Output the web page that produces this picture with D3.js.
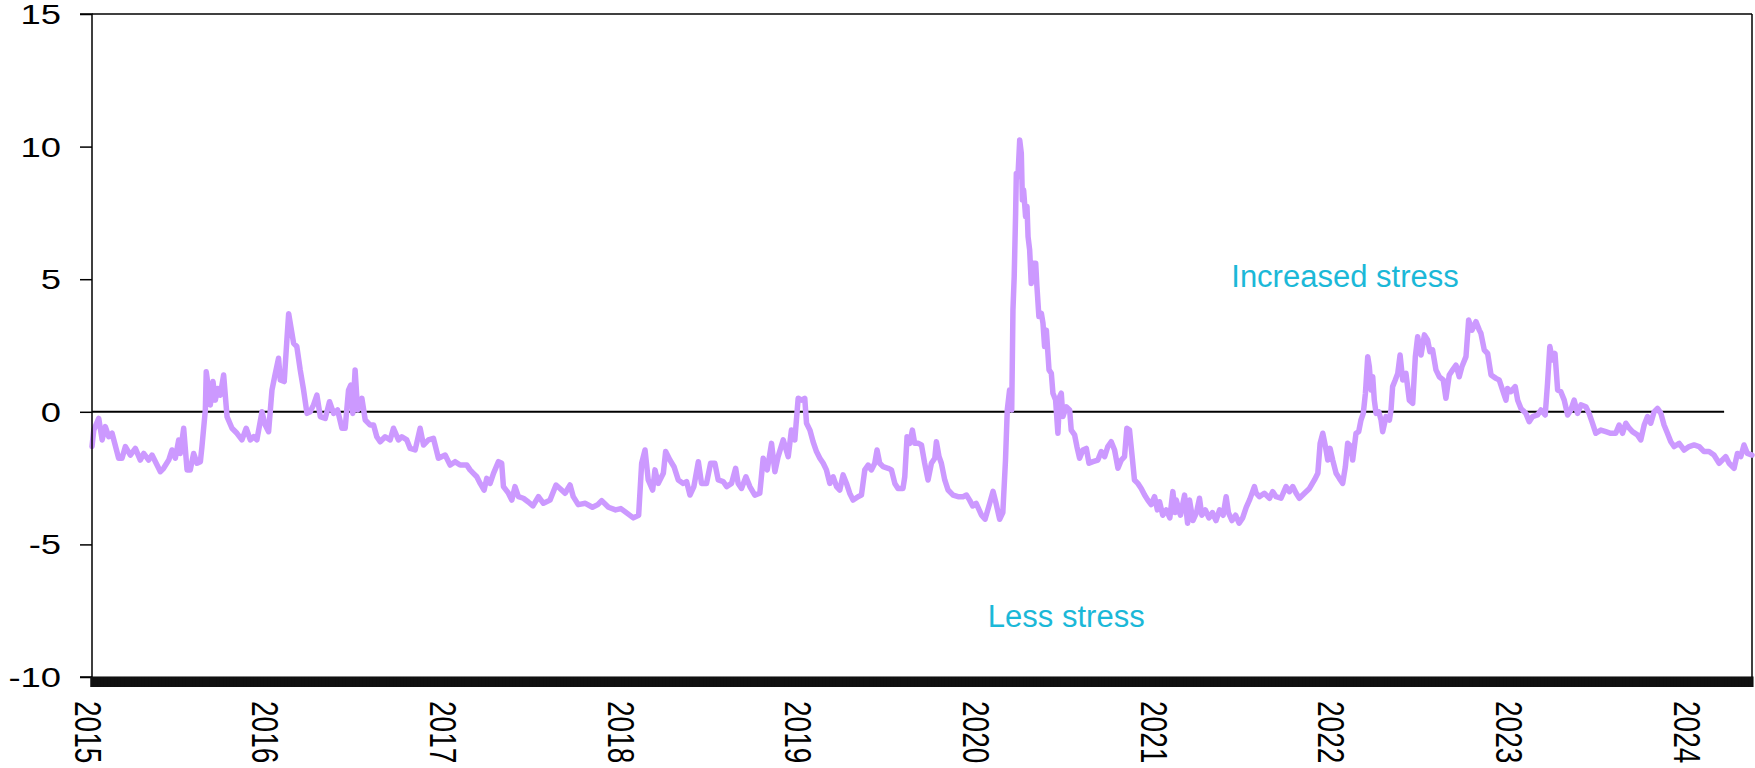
<!DOCTYPE html>
<html><head><meta charset="utf-8">
<script src="https://cdn.jsdelivr.net/npm/d3@7"></script>
<style>body{margin:0;background:#fff}svg{display:block}</style>
</head><body>
<svg id="chart" width="1755" height="768"></svg>
<script>
// ---- data (time as decimal year, stress index value) ----
const dates = [
2015.023,2015.033,2015.061,2015.080,2015.098,2015.117,2015.136,2015.173,2015.192,2015.211,2015.239,2015.267,2015.295,2015.314,2015.342,2015.361,2015.380,2015.408,2015.426,2015.455,2015.473,2015.492,2015.511,2015.520,2015.539,2015.558,2015.576,2015.595,2015.614,2015.633,2015.642,2015.661,2015.666,2015.680,2015.689,2015.704,2015.717,2015.730,2015.745,2015.764,2015.783,2015.811,2015.839,2015.867,2015.891,2015.914,2015.933,2015.951,2015.980,2015.998,
2016.017,2016.036,2016.055,2016.073,2016.083,2016.105,2016.120,2016.130,2016.158,2016.176,2016.195,2016.214,2016.233,2016.251,2016.270,2016.289,2016.308,2016.336,2016.360,2016.383,2016.405,2016.430,2016.448,2016.467,2016.480,2016.491,2016.504,2016.518,2016.542,2016.561,2016.589,2016.608,2016.626,2016.645,2016.673,2016.701,2016.720,2016.748,2016.767,2016.795,2016.814,2016.842,2016.870,2016.889,2016.917,2016.945,2016.973,
2017.011,2017.039,2017.067,2017.095,2017.133,2017.151,2017.170,2017.189,2017.208,2017.230,2017.245,2017.264,2017.283,2017.311,2017.329,2017.339,2017.367,2017.386,2017.404,2017.423,2017.451,2017.479,2017.505,2017.536,2017.564,2017.601,2017.635,2017.657,2017.686,2017.714,2017.732,2017.760,2017.800,2017.840,2017.870,2017.892,2017.930,2017.970,
2018.000,2018.040,2018.070,2018.100,2018.117,2018.136,2018.154,2018.179,2018.192,2018.210,2018.239,2018.252,2018.276,2018.299,2018.323,2018.351,2018.370,2018.389,2018.411,2018.436,2018.454,2018.482,2018.505,2018.529,2018.548,2018.576,2018.595,2018.623,2018.646,2018.660,2018.679,2018.704,2018.726,2018.754,2018.782,2018.801,2018.824,2018.848,2018.867,2018.885,2018.914,2018.942,2018.960,2018.979,2018.998,
2019.017,2019.035,2019.045,2019.064,2019.082,2019.101,2019.120,2019.139,2019.157,2019.176,2019.195,2019.214,2019.232,2019.251,2019.270,2019.288,2019.307,2019.335,2019.354,2019.373,2019.392,2019.410,2019.429,2019.442,2019.457,2019.476,2019.504,2019.523,2019.542,2019.560,2019.588,2019.598,2019.611,2019.626,2019.641,2019.654,2019.673,2019.692,2019.710,2019.729,2019.748,2019.767,2019.776,2019.791,2019.804,2019.823,2019.842,2019.870,2019.898,2019.926,2019.945,2019.963,2019.980,
2020.000,2020.030,2020.050,2020.076,2020.095,2020.110,2020.132,2020.150,2020.165,2020.175,2020.188,2020.200,2020.207,2020.214,2020.222,2020.226,2020.235,2020.245,2020.254,2020.260,2020.267,2020.278,2020.286,2020.292,2020.301,2020.310,2020.320,2020.335,2020.342,2020.353,2020.367,2020.376,2020.385,2020.395,2020.410,2020.423,2020.432,2020.447,2020.460,2020.470,2020.479,2020.488,2020.507,2020.526,2020.535,2020.554,2020.567,2020.582,2020.601,2020.620,2020.635,2020.657,2020.685,2020.704,2020.723,2020.741,2020.760,2020.779,2020.798,2020.817,2020.835,2020.848,2020.863,2020.878,2020.891,2020.910,2020.929,2020.948,2020.966,2020.985,
2021.004,2021.020,2021.032,2021.050,2021.070,2021.090,2021.107,2021.120,2021.126,2021.150,2021.173,2021.190,2021.201,2021.220,2021.240,2021.257,2021.270,2021.290,2021.310,2021.330,2021.350,2021.370,2021.390,2021.407,2021.420,2021.440,2021.460,2021.480,2021.500,2021.520,2021.540,2021.566,2021.576,2021.594,2021.622,2021.651,2021.669,2021.688,2021.716,2021.744,2021.763,2021.782,2021.801,2021.819,2021.848,2021.876,2021.904,2021.923,2021.936,2021.951,2021.966,2021.979,2021.992,
2022.007,2022.026,2022.044,2022.063,2022.078,2022.091,2022.110,2022.119,2022.138,2022.153,2022.166,2022.179,2022.191,2022.204,2022.213,2022.223,2022.232,2022.241,2022.251,2022.266,2022.279,2022.288,2022.307,2022.326,2022.335,2022.344,2022.359,2022.373,2022.386,2022.401,2022.419,2022.438,2022.457,2022.472,2022.485,2022.504,2022.523,2022.541,2022.554,2022.569,2022.588,2022.607,2022.629,2022.644,2022.663,2022.682,2022.701,2022.719,2022.734,2022.757,2022.772,2022.791,2022.813,2022.832,2022.841,2022.860,2022.879,2022.898,2022.926,2022.944,2022.963,2022.982,2022.991,
2023.010,2023.034,2023.048,2023.066,2023.094,2023.113,2023.132,2023.160,2023.179,2023.203,2023.216,2023.229,2023.244,2023.258,2023.273,2023.291,2023.310,2023.329,2023.347,2023.366,2023.385,2023.404,2023.432,2023.450,2023.469,2023.488,2023.516,2023.544,2023.572,2023.600,2023.619,2023.638,2023.657,2023.676,2023.694,2023.722,2023.741,2023.760,2023.779,2023.797,2023.816,2023.835,2023.854,2023.872,2023.891,2023.910,2023.929,2023.957,2023.985,
2024.013,2024.041,2024.069,2024.097,2024.125,2024.153,2024.182,2024.200,2024.219,2024.238,2024.266,2024.285,2024.304,2024.322,2024.341,2024.367
];
const values = [
-1.31,-0.69,-0.25,-1.06,-0.56,-0.94,-0.81,-1.75,-1.75,-1.31,-1.63,-1.38,-1.82,-1.57,-1.82,-1.63,-1.88,-2.26,-2.13,-1.82,-1.44,-1.75,-1.06,-1.57,-0.62,-2.19,-2.19,-1.57,-1.94,-1.88,-1.31,0.07,1.51,0.82,0.26,1.14,0.44,0.88,0.63,1.39,-0.18,-0.62,-0.81,-1.06,-0.62,-1.06,-0.94,-1.06,0.00,-0.50,
-0.75,0.82,1.45,2.02,1.20,1.14,2.71,3.70,2.58,2.46,1.58,0.82,-0.06,0.00,0.26,0.63,-0.18,-0.25,0.38,-0.06,0.07,-0.62,-0.62,0.82,1.01,-0.06,1.58,0.07,0.51,-0.31,-0.50,-0.50,-0.94,-1.13,-0.94,-1.06,-0.62,-1.06,-0.94,-1.06,-1.38,-1.44,-0.62,-1.25,-1.06,-1.00,-1.75,
-1.63,-2.01,-1.88,-2.01,-2.01,-2.19,-2.32,-2.45,-2.70,-2.95,-2.51,-2.70,-2.32,-1.88,-1.94,-2.82,-3.07,-3.33,-2.82,-3.20,-3.26,-3.40,-3.55,-3.20,-3.45,-3.33,-2.76,-2.89,-3.07,-2.76,-3.20,-3.50,-3.45,-3.60,-3.50,-3.35,-3.60,-3.70,
-3.65,-3.85,-4.00,-3.90,-1.94,-1.44,-2.57,-2.95,-2.19,-2.70,-2.32,-1.50,-1.82,-2.07,-2.57,-2.70,-2.63,-3.14,-2.82,-1.88,-2.70,-2.70,-1.94,-1.94,-2.57,-2.63,-2.82,-2.70,-2.13,-2.70,-2.89,-2.45,-2.82,-3.14,-3.07,-1.75,-2.19,-1.19,-2.26,-1.69,-1.06,-1.69,-0.69,-1.06,0.51,
0.44,0.51,-0.43,-0.69,-1.13,-1.50,-1.75,-1.94,-2.19,-2.70,-2.45,-2.82,-2.95,-2.38,-2.70,-3.07,-3.33,-3.20,-3.14,-2.19,-2.01,-2.19,-1.94,-1.44,-1.94,-2.07,-2.13,-2.19,-2.70,-2.89,-2.89,-2.45,-0.94,-1.19,-0.69,-1.19,-1.19,-1.25,-1.94,-2.57,-1.94,-1.75,-1.13,-1.69,-1.94,-2.57,-2.95,-3.14,-3.20,-3.20,-3.14,-3.33,-3.55,
-3.45,-3.90,-4.05,-3.45,-3.00,-3.40,-4.05,-3.80,-1.82,0.07,0.82,0.07,3.84,5.10,7.48,8.99,8.87,10.25,9.75,7.99,8.36,7.36,7.74,6.60,6.10,4.84,5.60,5.60,4.72,3.59,3.71,3.34,2.46,3.08,1.58,1.45,0.70,0.44,-0.81,0.57,0.70,-0.18,0.19,0.07,-0.69,-0.87,-1.31,-1.75,-1.44,-1.38,-1.94,-1.88,-1.82,-1.50,-1.69,-1.31,-1.13,-1.44,-2.13,-1.82,-1.69,-0.62,-0.69,-1.69,-2.57,-2.70,-2.89,-3.14,-3.33,-3.50,
-3.20,-3.70,-3.39,-3.90,-3.70,-4.00,-3.01,-3.80,-3.33,-3.90,-3.14,-4.20,-3.33,-4.10,-3.80,-3.26,-3.90,-3.70,-4.00,-3.80,-4.10,-3.70,-3.90,-3.20,-3.80,-4.10,-3.90,-4.20,-4.00,-3.60,-3.30,-2.82,-3.07,-3.20,-3.07,-3.26,-3.01,-3.20,-3.26,-2.82,-3.01,-2.82,-3.07,-3.26,-3.07,-2.89,-2.57,-2.32,-1.19,-0.81,-1.31,-1.82,-1.38,
-1.82,-2.32,-2.51,-2.70,-2.07,-1.19,-1.31,-1.82,-0.81,-0.75,-0.31,-0.06,0.70,2.08,1.70,0.82,1.32,0.44,-0.06,0.00,-0.31,-0.75,-0.18,-0.31,0.07,0.95,1.20,1.45,2.14,1.20,1.45,0.44,0.32,2.08,2.83,2.14,2.90,2.71,2.27,2.33,1.58,1.32,1.20,0.51,1.39,1.58,1.76,1.32,1.70,2.08,3.46,3.08,3.40,3.08,2.96,2.33,2.20,1.39,1.26,1.20,0.82,0.44,0.88,
0.76,0.95,0.44,0.13,-0.06,-0.37,-0.18,-0.12,0.07,-0.12,1.07,2.46,1.95,2.20,0.82,0.76,0.44,-0.12,0.07,0.44,-0.06,0.26,0.19,-0.06,-0.43,-0.81,-0.69,-0.75,-0.81,-0.81,-0.50,-0.81,-0.43,-0.62,-0.75,-0.87,-1.06,-0.50,-0.18,-0.43,0.00,0.13,-0.06,-0.50,-0.81,-1.13,-1.31,-1.19,-1.44,
-1.31,-1.25,-1.31,-1.50,-1.50,-1.63,-1.94,-1.82,-1.69,-1.94,-2.13,-1.57,-1.69,-1.25,-1.57,-1.63
];
const yTicks = [15, 10, 5, 0, -5, -10];
const yDomain = [-10, 15];
const xTickYears = [2015, 2016, 2017, 2018, 2019, 2020, 2021, 2022, 2023, 2024];
const zeroLineEnd = 2024.21;
const annotationText = ["Increased stress", "Less stress"];
const annotationT = [2022.076, 2020.507];
const annotationV = [4.71, -8.12];

// ---- layout ----
const plotL = 92, plotR = 1752, plotT = 14, plotB = 677;
const FONT = "'Liberation Sans', Arial, Helvetica, sans-serif";
const lineColor = "#cc99ff";
const noteColor = "#1bb8d8";
const stretch = 1.3;

const svg = d3.select("#chart");
const x = d3.scaleLinear().domain([dates[0], dates[dates.length - 1]]).range([plotL, plotR]);
const y = d3.scaleLinear().domain(yDomain).range([plotB, plotT]);

// frame: top and right border
svg.append("line").attr("x1", plotL).attr("x2", plotR).attr("y1", plotT).attr("y2", plotT)
  .attr("stroke", "#000").attr("stroke-width", 1.5);
svg.append("line").attr("x1", plotR).attr("x2", plotR).attr("y1", plotT).attr("y2", plotB)
  .attr("stroke", "#000").attr("stroke-width", 1.5);

// zero line
svg.append("line").attr("x1", x(dates[0])).attr("x2", x(zeroLineEnd))
  .attr("y1", y(0)).attr("y2", y(0)).attr("stroke", "#000").attr("stroke-width", 2);

// data line
const pts = dates.map((d, i) => [d, values[i]]);
svg.append("path").datum(pts)
  .attr("fill", "none").attr("stroke", lineColor).attr("stroke-width", 5.5)
  .attr("stroke-linejoin", "round").attr("stroke-linecap", "round")
  .attr("d", d3.line().x(d => x(d[0])).y(d => y(d[1])));

// left axis
const yAxisG = svg.append("g").attr("transform", `translate(${plotL},0)`)
  .call(d3.axisLeft(y).tickValues(yTicks).tickSize(12).tickFormat(""));
yAxisG.select(".domain").attr("stroke", "#000").attr("stroke-width", 1.5).attr("d", `M-12,${plotT}H0V${plotB}H-12`);
yAxisG.selectAll(".tick line").attr("stroke", "#000").attr("stroke-width", 1.5);
yTicks.forEach(v => {
  svg.append("text")
    .attr("transform", `translate(61,${y(v)}) scale(${stretch},1)`)
    .attr("text-anchor", "end").attr("dy", "0.36em")
    .style("font-family", FONT).style("font-size", "28px").attr("fill", "#000")
    .text(v);
});

// bottom axis: dense weekly ticks forming a solid band
const weekStep = 7 / 365.25;
const weekTicks = d3.range(dates[0], dates[dates.length - 1] + 1e-9, weekStep);
const xAxisG = svg.append("g").attr("transform", `translate(0,${plotB})`)
  .call(d3.axisBottom(x).tickValues(weekTicks).tickSize(10).tickFormat(""));
xAxisG.select(".domain").attr("stroke", "#000").attr("stroke-width", 2);
xAxisG.selectAll(".tick line").attr("stroke", "#111").attr("stroke-width", 4.5);

// year labels (rotated)
xTickYears.forEach(yr => {
  svg.append("text")
    .attr("transform", `translate(${x(yr)},701) scale(${stretch},1) rotate(90)`)
    .attr("text-anchor", "start").attr("dy", "0.36em")
    .style("font-family", FONT).style("font-size", "28px").attr("fill", "#000")
    .text(yr);
});

// annotations
annotationText.forEach((t, i) => {
  svg.append("text").attr("x", x(annotationT[i])).attr("y", y(annotationV[i]))
    .attr("text-anchor", "middle")
    .style("font-family", FONT).style("font-size", "31px").attr("fill", noteColor)
    .text(t);
});
</script>
</body></html>
